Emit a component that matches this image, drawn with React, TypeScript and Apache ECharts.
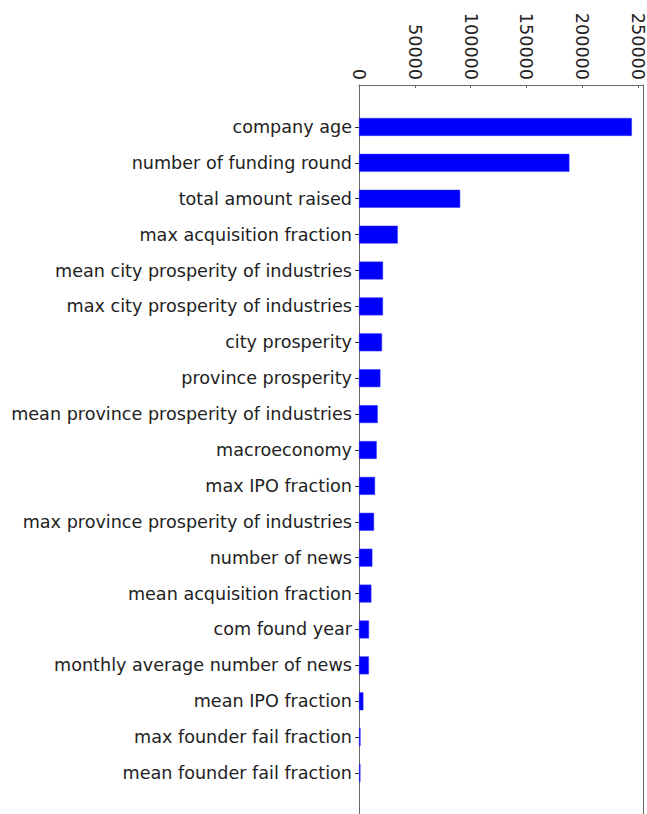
import React, { useEffect, useRef } from "react";
import * as echarts from "echarts";

const categories = [
  "company age",
  "number of funding round",
  "total amount raised",
  "max acquisition fraction",
  "mean city prosperity of industries",
  "max city prosperity of industries",
  "city prosperity",
  "province prosperity",
  "mean province prosperity of industries",
  "macroeconomy",
  "max IPO fraction",
  "max province prosperity of industries",
  "number of news",
  "mean acquisition fraction",
  "com found year",
  "monthly average number of news",
  "mean IPO fraction",
  "max founder fail fraction",
  "mean founder fail fraction",
];

const importance = [
  244600, 188600, 90700, 34750, 21550, 21500, 20650, 19200, 16800, 15900,
  14400, 13500, 12000, 11100, 9000, 8900, 3950, 1400, 1300,
];

const xTicks = [0, 50000, 100000, 150000, 200000, 250000];
const xMax = 255000;

export default function App() {
  const ref = useRef<HTMLDivElement>(null);
  useEffect(() => {
    if (!ref.current) return;
    const chart = echarts.init(ref.current, null, { renderer: "svg" });
    const font = "DejaVu Sans";
    const axisColor = "#666";
    const spine = { show: true, onZero: false, lineStyle: { color: axisColor, width: 1 } };
    chart.setOption({
      animation: false,
      grid: [
        { left: 359, right: 3.5, top: 109, height: 682, containLabel: false },
        { left: 359, right: 3.5, top: 85, height: 760, containLabel: false },
      ],
      xAxis: [
        { gridIndex: 0, type: "value", min: 0, max: xMax, show: false },
        {
          gridIndex: 1,
          type: "value",
          position: "top",
          min: 0,
          max: xMax,
          interval: xTicks[1] - xTicks[0],
          axisLine: spine,
          axisTick: { show: true, inside: true, length: 3, lineStyle: { color: axisColor } },
          splitLine: { show: false },
          axisLabel: {
            rotate: 90,
            fontFamily: font,
            fontSize: 17.6,
            color: "#222",
            margin: 5,
            showMaxLabel: true,
            formatter: (v: number) => (xTicks.includes(v) ? String(v) : ""),
          },
        },
      ],
      yAxis: [
        {
          gridIndex: 0,
          type: "category",
          inverse: true,
          data: categories,
          axisLine: { show: false },
          axisTick: {
            show: true,
            alignWithLabel: true,
            length: 4,
            lineStyle: { color: "#333" },
          },
          axisLabel: {
            fontFamily: font,
            fontSize: 17.6,
            color: "#222",
            margin: 7,
            interval: 0,
          },
        },
        {
          gridIndex: 1,
          type: "value",
          position: "left",
          min: 0,
          max: 1,
          axisLine: spine,
          axisTick: { show: false },
          axisLabel: { show: false },
          splitLine: { show: false },
        },
        {
          gridIndex: 1,
          type: "value",
          position: "right",
          min: 0,
          max: 1,
          axisLine: spine,
          axisTick: { show: false },
          axisLabel: { show: false },
          splitLine: { show: false },
        },
      ],
      series: [
        {
          type: "bar",
          xAxisIndex: 0,
          yAxisIndex: 0,
          data: importance,
          barWidth: "50%",
          itemStyle: { color: "#0000ff", borderColor: "#3a3aff", borderWidth: 0.5 },
        },
      ],
    });
    return () => chart.dispose();
  }, []);
  return <div ref={ref} style={{ width: 647, height: 814, position: "absolute", left: 0, top: 0 }} />;
}
